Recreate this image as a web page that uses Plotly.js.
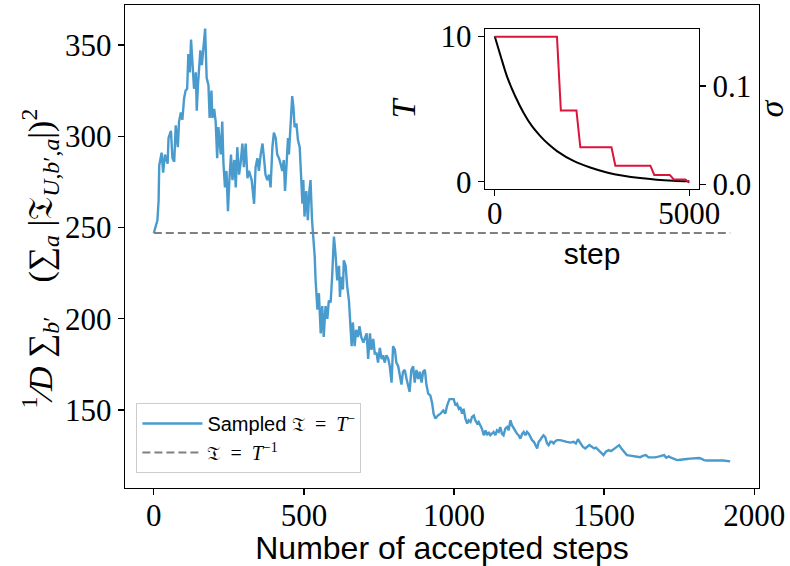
<!DOCTYPE html>
<html>
<head>
<meta charset="utf-8">
<script src="https://cdn.plot.ly/plotly-3.0.1.min.js"></script>
<style>html,body{margin:0;padding:0;background:#fff;}#chart{width:790px;height:566px;}</style>
</head>
<body>
<div id="chart"></div>
<script>
// Main panel: sampled quantity vs number of accepted steps
const acceptedSteps = [0,12,16,18,26,31,37,46,49,57,62,68,73,80,84,90,95,101,106,111,115,120,124,129,134,140,143,147,151,155,160,164,171,173,176,182,186,192,195,201,206,211,215,223,228,232,237,242,247,252,257,262,268,273,278,284,289,295,300,306,312,317,326,334,
339,345,350,356,362,367,372,378,384,389,395,400,406,411,417,422,428,433,437,441,447,450,456,461,465,469,475,480,486,491,495,498,502,508,513,518,522,527,531,536,
539,545,550,556,561,566,572,578,583,589,594,600,605,611,617,620,624,630,633,639,644,650,655,659,663,669,674,680,685,691,698,703,709,714,720,725,731,736,742,747,753,759,764,769,775,781,786,792,797,803,808,814,819,825,830,836,842,847,852,858,864,869,875,881,886,892,897,903,908,914,921,
927,932,938,946,955,964,971,977,985,994,999,1005,1010,1016,1021,1027,1032,1038,1044,1049,1055,1060,1066,1071,1077,1082,1088,1093,1099,1105,1110,1116,1121,1127,1132,1138,1143,1149,1154,1160,1165,1171,1177,1182,1188,1193,1199,1204,1210,1215,1221,1227,1232,1238,1243,1249,1254,1260,1266,1271,1277,1282,1287,1293,1298,1304,1310,1315,1321,1326,1332,1337,1343,1354,1365,1376,1387,1398,1406,1413,1420,1429,1437,1444,1451,1459,1467,1473,1481,1490,1498,1506,1515,1523,1532,1540,1550,1559,1567,1576,1587,1598,1609,1620,1631,1639,1648,1659,1670,1681,1692,1700,1707,1715,1723,1732,1743,1754,1765,1776,1786,1798,1809,1817,1825,1833,1842,1853,1864,1875,1886,1897,1909,1920];
const sampledSum = [247,254,265,284,291,280,290,285,299,303,288,286,306,294,308,313,309,321,325,326,345,335,353,341,326,335,314,328,337,347,339,346,359,348,332,328,310,325,310,315,308,288,305,290,308,285,272,281,259,277,290,276,287,272,294,279,285,296,283,296,277,281,276,263,
283,288,281,290,296,288,279,276,279,272,294,302,299,290,288,285,281,287,270,281,299,290,312,322,316,305,307,298,294,278,263,276,256,270,254,270,276,254,247,234,
221,205,214,192,207,190,207,200,210,209,223,245,236,221,229,212,223,216,232,229,218,210,196,185,198,185,194,190,196,190,187,189,192,178,192,183,189,181,181,176,184,178,180,176,180,178,174,165,185,183,176,174,169,164,171,172,167,163,160,172,174,165,172,167,171,165,171,172,164,159,158,
154,148,145.3,147,148,149.8,148,152.5,156,156,156,152.5,153.4,150.7,151.6,148,150.7,145.3,142.6,144.4,143.5,146.2,147,144.4,142.6,143.5,141.7,139.8,136.2,138.9,136.2,138,136.2,137,138,136.2,138.9,138,140.7,137,136.2,139.8,140.7,138.9,144.4,141.7,139.8,138.9,137,136.2,134.3,137,138,136.2,138,137,135.2,133.5,132.6,130.8,129,132.6,133.5,135.2,136.2,135.2,131.7,130.8,132.6,132.6,131.7,132.9,133.5,133.5,132.9,132.6,132.2,132.6,131.7,134,132.2,129.9,129,129.9,130.8,129.9,129,129.4,128.1,126.8,125.3,127.2,128.1,127.5,128.6,129.5,130.8,128.6,126.8,125.3,125,124.6,124.6,124.2,125,125.3,124.1,123.9,124.1,124.5,125,125.3,123.9,124.6,123.9,123.2,122.6,122.8,123.2,123.2,123.4,123.4,123.5,123.7,123.2,122.6,122.4,122.3,122.4,122.3,122.4,122.4,122.3,121.9];
const referenceSteps = [0, 1920];
const referenceSum = [247, 247];

// Inset: temperature schedule T and sigma vs step
const insetSteps = [0,146,317,530,744,958,1172,1385,1600,2026,2454,2882,3308,3736,4162,4590,5000];
const temperature = [10,8.7,7.23,5.86,4.73,3.82,3.14,2.57,2.11,1.43,0.98,0.64,0.41,0.25,0.14,0.07,0.03];
const sigmaSteps = [0,1600,1700,2100,2200,3000,3100,4000,4100,4500,4600,4900,5000];
const sigmaValues = [0.15,0.15,0.075,0.075,0.0375,0.0375,0.01875,0.01875,0.0094,0.0094,0.0047,0.0047,0.0014];

const mainXTicks = [0,500,1000,1500,2000];
const mainYTicks = [150,200,250,300,350];
const insetXTicks = [0,5000];
const insetTTicks = [0,10];
const insetSigmaTicks = [0,0.1];
const insetSigmaLabels = ['0.0','0.1'];

const serif = 'Liberation Serif, DejaVu Serif, serif';
const sans = 'Liberation Sans, DejaVu Sans, sans-serif';
const tickFont = {family: serif, size: 31, color: '#000'};
const mathSpan = s => '<span style="font-family:Liberation Serif">' + s + '</span>';
const EN = '\u2002';

const traces = [
  {x: acceptedSteps, y: sampledSum, type: 'scatter', mode: 'lines',
   name: 'Sampled ' + mathSpan('𝔗' + EN + '=' + EN + '<i>T</i><sup>−</sup>'),
   line: {color: '#4a9bcd', width: 2.4}, xaxis: 'x', yaxis: 'y'},
  {x: referenceSteps, y: referenceSum, type: 'scatter', mode: 'lines',
   name: mathSpan('𝔗' + EN + '=' + EN + '<i>T</i><sup>−1</sup>'),
   line: {color: '#808080', width: 2, dash: '8px,4px'}, xaxis: 'x', yaxis: 'y'},
  {x: insetSteps, y: temperature, type: 'scatter', mode: 'lines', showlegend: false,
   line: {color: '#000', width: 2, shape: 'spline'}, xaxis: 'x2', yaxis: 'y2'},
  {x: sigmaSteps, y: sigmaValues, type: 'scatter', mode: 'lines', showlegend: false,
   line: {color: '#dc143c', width: 2}, xaxis: 'x2', yaxis: 'y3'}
];

const axisCommon = {showline: true, linecolor: '#000', linewidth: 1.2, mirror: true, ticks: 'outside',
  ticklen: 6, tickwidth: 1.2, tickcolor: '#000', showgrid: false, zeroline: false, tickfont: tickFont};

const layout = {
  width: 790, height: 566,
  margin: {l: 125, r: 31, t: 5, b: 78},
  paper_bgcolor: '#fff', plot_bgcolor: '#fff',
  showlegend: true,
  legend: {x: 0.018, y: 0.176, xanchor: 'left', yanchor: 'top', bgcolor: 'rgba(255,255,255,0.8)',
    bordercolor: '#cccccc', borderwidth: 1, font: {family: sans, size: 20, color: '#000'},
    tracegroupgap: 0, itemwidth: 60},
  xaxis: Object.assign({}, axisCommon, {domain: [0, 1], range: [-96, 2016], tickvals: mainXTicks, anchor: 'y',
    ticklabelstandoff: -6,
    title: {text: 'Number of accepted steps', font: {family: sans, size: 32, color: '#000'}, standoff: 7}}),
  yaxis: Object.assign({}, axisCommon, {domain: [0, 1], range: [107.3, 371.9], tickvals: mainYTicks, anchor: 'x'}),
  xaxis2: Object.assign({}, axisCommon, {domain: [0.5678, 0.9054], range: [-250, 5250], tickvals: insetXTicks, anchor: 'y2',
    ticklabelstandoff: -9,
    title: {text: 'step', font: {family: sans, size: 30, color: '#000'}, standoff: 12}}),
  yaxis2: Object.assign({}, axisCommon, {domain: [0.619, 0.9503], range: [-0.5, 10.5], tickvals: insetTTicks, anchor: 'x2',
    title: {text: '<i>T</i>', font: {family: serif, size: 34, color: '#000'}, standoff: 14}}),
  yaxis3: Object.assign({}, axisCommon, {overlaying: 'y2', side: 'right', anchor: 'x2', range: [-0.005, 0.158],
    tickvals: insetSigmaTicks, ticktext: insetSigmaLabels, mirror: false,
    title: {text: '<i>σ</i>', font: {family: serif, size: 34, color: '#000'}, standoff: 10}}),
  annotations: [{
    xref: 'paper', yref: 'paper', x: -0.134, y: 0.475, xanchor: 'center', yanchor: 'middle', textangle: -90,
    showarrow: false, font: {family: serif, size: 34, color: '#000'},
    text: '<sup>1</sup>⁄<i>D</i> ∑<sub><i>b</i>′</sub>\u2003(∑<sub><i>a</i></sub> |𝔗<sub><i>U</i>,<i>b</i>′,<i>a</i></sub>|)<sup>2</sup>'
  }]
};

Plotly.newPlot('chart', traces, layout, {displayModeBar: false, staticPlot: true});
</script>
</body>
</html>
